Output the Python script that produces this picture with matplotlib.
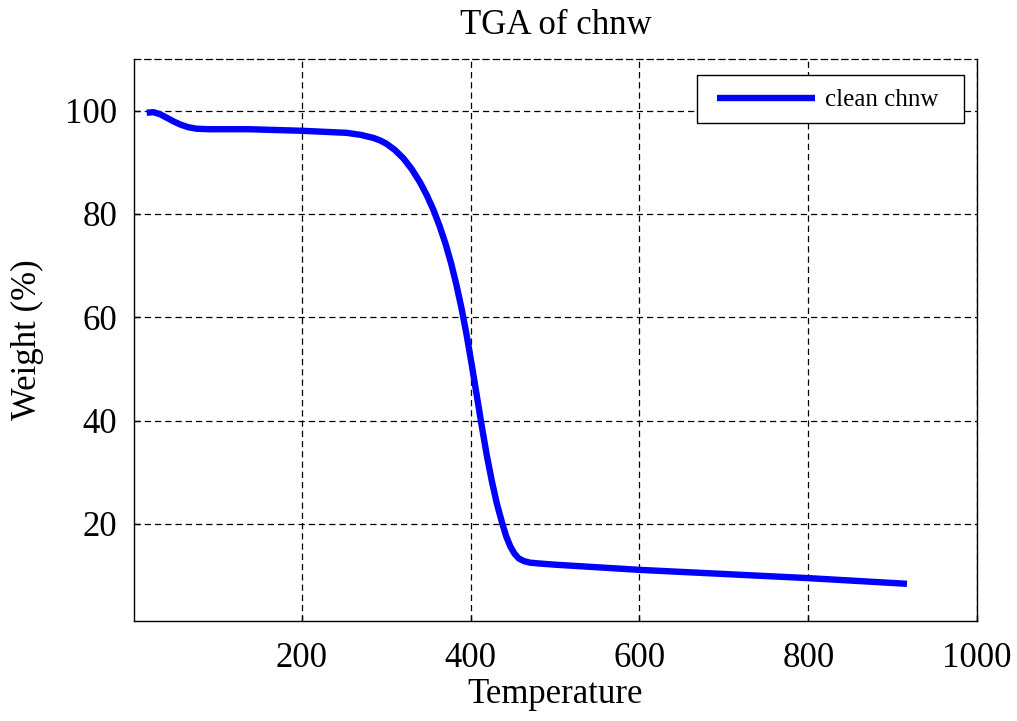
import matplotlib.pyplot as plt
from matplotlib.patches import Rectangle

# TGA trace: temperature vs remaining weight
temperature = [16, 24, 32, 40, 48, 56, 65, 75, 90, 138, 200, 253, 270, 285,
               293, 300, 310, 320, 330, 340, 348, 356, 363, 370, 377, 383,
               389, 395, 401, 407, 413, 419, 425, 431, 437, 442, 447, 452,
               457, 463, 470, 480, 500, 600, 700, 800, 917]
weight = [99.6, 99.7, 99.3, 98.6, 97.9, 97.3, 96.8, 96.5, 96.4, 96.4, 96.1,
          95.7, 95.3, 94.7, 94.2, 93.6, 92.4, 90.8, 88.7, 86.1, 83.6, 80.7,
          77.7, 74.3, 70.3, 66.3, 61.8, 56.7, 51.0, 45.0, 39.0, 33.3, 28.3,
          23.9, 20.3, 17.6, 15.6, 14.2, 13.3, 12.8, 12.5, 12.35, 12.1, 11.1,
          10.3, 9.5, 8.4]

xticks = [200, 400, 600, 800, 1000]
yticks = [20, 40, 60, 80, 100]

plt.rcParams['font.family'] = ['Liberation Serif', 'DejaVu Serif']

fig = plt.figure(figsize=(10.17, 7.21), dpi=100)
ax = fig.add_axes([0.1318, 0.1387, 0.8289, 0.7795])

ax.plot(temperature, weight, color='#0000ff', lw=4.6, label='clean chnw',
        solid_capstyle='butt', solid_joinstyle='round', zorder=3)

ax.set_xlim(1, 1000)
ax.set_ylim(1.2, 110)
ax.set_xticks(xticks)
ax.set_yticks(yticks)
ax.tick_params(direction='in', length=4, width=1, labelsize=25, colors='black')
ax.tick_params(axis='y', pad=12)
ax.tick_params(axis='x', pad=15)

ax.grid(True, color='black', lw=0.9, linestyle=(0, (5, 3.2)))
for side in ['left', 'bottom', 'right']:
    ax.spines[side].set_linewidth(1.0)
ax.spines['top'].set_linewidth(0.9)
ax.spines['top'].set_linestyle((0, (5, 3.2)))

ax.set_xlabel('Temperature', fontsize=25, labelpad=2)
ax.set_ylabel('Weight (%)', fontsize=25, labelpad=15)
ax.set_title('TGA of chnw', fontsize=25, pad=18)

# legend box drawn separately so the padding can be wider than tall
ax.add_patch(Rectangle((0.6679, 0.8861), 0.3167, 0.0854, transform=ax.transAxes,
                       facecolor='white', edgecolor='black', lw=1.0, zorder=4))
leg = ax.legend(loc='center left', bbox_to_anchor=(0.6916, 0.927),
                borderaxespad=0, borderpad=0, fontsize=18, handlelength=3.92,
                handletextpad=0.4, frameon=False)
leg.set_zorder(5)

fig.savefig('out.png', dpi=100)
